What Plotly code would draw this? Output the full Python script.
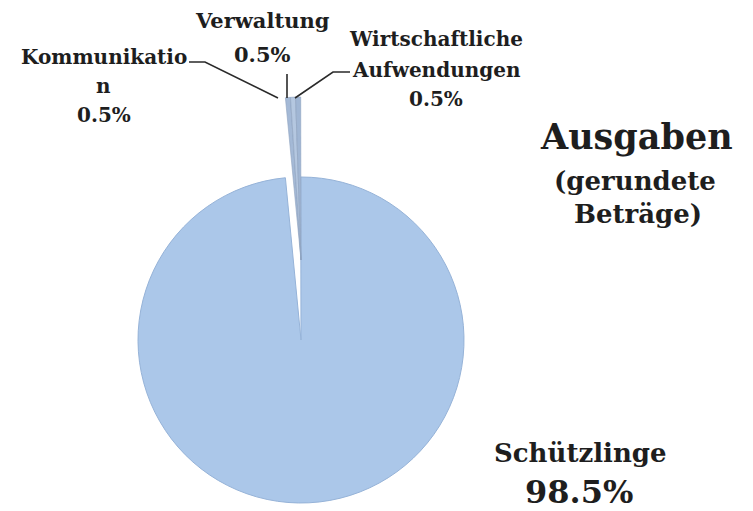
import plotly.graph_objects as go

# ---- data ----
categories = ["Kommunikation", "Verwaltung", "Wirtschaftliche Aufwendungen", "Schützlinge"]
values = [0.5, 0.5, 0.5, 98.5]
label_lines = [["Kommunikatio", "n"], ["Verwaltung"], ["Wirtschaftliche", "Aufwendungen"], ["Schützlinge"]]
title_lines = ["Ausgaben", "(gerundete", "Beträge)"]

W, H = 753, 511
FONT = "DejaVu Serif"
TXT = "#1e1e1e"

def px(x):
    return x / W

def py(y):
    return 1 - y / H

main_blue = "#abc7e9"
sliver_cols = ["#a4b9d6", "#b4c7e0", "#a0b6d4"]
clear = "rgba(0,0,0,0)"

cx, cy, r = 301, 340, 163
lift = 80
rot = -5.5

fig = go.Figure()
# main body (small slices left as a gap)
fig.add_trace(go.Pie(
    labels=categories, values=values, sort=False, direction="clockwise", rotation=rot,
    marker=dict(colors=[clear, clear, clear, main_blue],
                line=dict(color=[clear, clear, clear, "#96b3d8"], width=[0, 0, 0, 1])),
    textinfo="none", hoverinfo="label+percent", showlegend=False,
    domain=dict(x=[px(cx - r), px(cx + r)], y=[py(cy + r), py(cy - r)]),
))
# exploded small slices
fig.add_trace(go.Pie(
    labels=categories, values=values, sort=False, direction="clockwise", rotation=rot,
    marker=dict(colors=sliver_cols + [clear],
                line=dict(color=["#8ea3c0"] * 3 + [clear], width=[0.6, 0.6, 0.6, 0])),
    textinfo="none", hoverinfo="label+percent", showlegend=False,
    domain=dict(x=[px(cx - r), px(cx + r)], y=[py(cy - lift + r), py(cy - lift - r)]),
))

annotations = []

def add_text(text, x, y, size):
    annotations.append(dict(text=text, x=px(x), y=py(y), xref="paper", yref="paper",
                            xanchor="center", yanchor="middle", showarrow=False,
                            font=dict(family=FONT, size=size, color=TXT)))

pct = [f"{v}%" for v in values]

# slice labels
lab_pos = [(104, [57, 86, 115]), (262, [21, 54]), (436, [39, 70, 99])]
lab_size = [20, 21, 20]
for i, (x, ys) in enumerate(lab_pos):
    lines = label_lines[i] + [pct[i]]
    for t, y in zip(lines, ys):
        add_text(f"<b>{t}</b>", x, y, lab_size[i])

# big slice label
add_text(f"<b>{label_lines[3][0]}</b>", 580, 453, 26)
add_text(f"<b>{pct[3]}</b>", 579, 492, 32)

# title
add_text(f"<b>{title_lines[0]}</b>", 636, 136, 35)
add_text(f"<b>{title_lines[1]}</b>", 635, 181, 26)
add_text(f"<b>{title_lines[2]}</b>", 638, 214, 26)

# leader lines
def path(pts):
    d = "M " + " L ".join(f"{px(x)},{py(y)}" for x, y in pts)
    return dict(type="path", xref="paper", yref="paper", path=d,
                line=dict(color="#2a2a2a", width=1.6))

shapes = [
    path([(189, 62), (205, 62), (278, 98)]),
    path([(287, 74), (287, 98)]),
    path([(295, 98), (333, 72), (350, 72)]),
]

fig.update_layout(
    width=W, height=H, margin=dict(l=0, r=0, t=0, b=0),
    paper_bgcolor="white", plot_bgcolor="white",
    annotations=annotations, shapes=shapes, showlegend=False,
)

fig.write_html("out.html", config={"displayModeBar": False},
               post_script="document.body.style.margin='0px';")
